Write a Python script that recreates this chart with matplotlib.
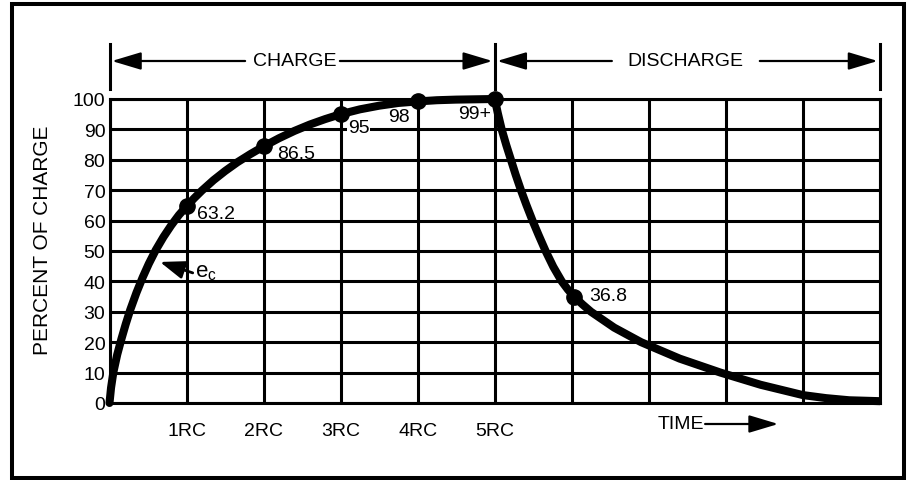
import matplotlib
matplotlib.use("Agg")
import matplotlib.pyplot as plt
import matplotlib.patches as mpatches
from matplotlib.transforms import blended_transform_factory

plt.rcParams["font.family"] = ["Liberation Sans", "DejaVu Sans"]

# curve (time in RC units, percent of charge)
CHARGE_T = [0, 0.02, 0.05, 0.1, 0.155, 0.21, 0.27, 0.35, 0.43, 0.51, 0.6, 0.7,
            0.8, 0.9, 1.0, 1.1, 1.2, 1.35, 1.5, 1.66, 1.83, 2.0, 2.2, 2.4,
            2.6, 2.8, 3.0, 3.25, 3.5, 3.75, 4.0, 4.25, 4.5, 4.75, 5.0]
CHARGE_V = [0, 5, 10.1, 15.9, 21.1, 25.9, 30.7, 36.3, 41.3, 45.8, 50.3, 54.6,
            58.4, 61.8, 64.7, 67.4, 69.9, 73.3, 76.3, 79.2, 81.9, 84.4, 87.1, 89.5,
            91.6, 93.4, 95.0, 96.6, 97.8, 98.7, 99.2, 99.6, 99.8, 99.9, 100]
DISCH_T = [5.0, 5.04, 5.09, 5.15, 5.21, 5.27, 5.34, 5.41, 5.49, 5.57, 5.66, 5.76,
           5.87, 5.95, 6.03, 6.14, 6.25, 6.55, 6.9, 7.4, 7.93, 8.45, 9.0, 9.3,
           9.6, 10.0]
DISCH_V = [100, 95.3, 90, 84.8, 80, 75.2, 70, 65.2, 60, 55.2, 50, 44.8,
           40, 37.3, 35, 32.4, 30, 24.8, 20, 14.6, 10, 6.0, 2.6, 1.6,
           0.9, 0.6]

DOT_T = [1, 2, 3, 4, 5, 6.03]
DOT_V = [64.7, 84.4, 95.0, 99.2, 100, 35]
DOT_LABELS = ["63.2", "86.5", "95", "98", "99+", "36.8"]

X_TICKS = list(range(11))
X_TICK_LABELS = ["", "1RC", "2RC", "3RC", "4RC", "5RC", "", "", "", "", ""]
Y_TICKS = list(range(0, 101, 10))

FS = 14

fig = plt.figure(figsize=(9.08, 4.81), dpi=100)
ax = fig.add_axes([109.5 / 908, 1 - 404 / 481, (880 - 109.5) / 908, (404 - 100) / 481])
ax.set_xlim(0, 10)
ax.set_ylim(0, 100)

ax.set_xticks(X_TICKS)
ax.set_xticklabels(X_TICK_LABELS, fontsize=FS)
ax.set_yticks(Y_TICKS)
ax.set_yticklabels([str(v) for v in Y_TICKS], fontsize=FS)
ax.tick_params(axis="x", length=0, pad=14)
ax.tick_params(axis="y", length=0, pad=3)
ax.grid(True, color="black", lw=2.2, zorder=1)
ax.set_axisbelow(True)
for sp in ax.spines.values():
    sp.set_linewidth(2.2)

# curve
ax.plot(CHARGE_T, CHARGE_V, color="black", lw=5.8, solid_joinstyle="round",
        solid_capstyle="round", zorder=4, clip_on=False)
ax.plot(DISCH_T, DISCH_V, color="black", lw=5.8, solid_joinstyle="round",
        solid_capstyle="butt", zorder=4, clip_on=False)
ax.plot(DOT_T, DOT_V, "o", color="black", ms=11, zorder=5, clip_on=False)

offsets = [(10, -7), (14, -7), (7, -13), (-8, -15), (-4, -15), (15, 1)]
aligns = ["left", "left", "left", "right", "right", "left"]
for t, v, lab, off, ha in zip(DOT_T, DOT_V, DOT_LABELS, offsets, aligns):
    box = dict(facecolor="white", edgecolor="none", pad=0.5) if lab == "95" else None
    ax.annotate(lab, xy=(t, v), xytext=off, textcoords="offset pixels",
                ha=ha, va="center", fontsize=FS, zorder=3, bbox=box)

# e_c pointer
ax.annotate("", xy=(0.655, 46.4), xytext=(1.08, 42.8),
            arrowprops=dict(arrowstyle="-|>,head_length=15,head_width=5.5",
                            mutation_scale=1, lw=2, color="black",
                            shrinkA=0, shrinkB=0), zorder=6)
ax.text(1.11, 43.4, r"$\mathregular{e_c}$", fontsize=16, ha="left", va="center")

fig.text(43 / 908, 1 - 240 / 481, "PERCENT OF CHARGE", rotation=90,
         ha="center", va="center", fontsize=15)

# charge / discharge span arrows above the grid
tr = blended_transform_factory(ax.transData, fig.transFigure)
y_row = 1 - 62 / 481
y_hi, y_lo = 1 - 45 / 481, 1 - 90 / 481
head = dict(arrowstyle="-|>,head_length=18,head_width=5.4", mutation_scale=1,
            lw=1.6, color="black", shrinkA=0, shrinkB=0)

for xb in (0, 5, 10):
    ax.plot([xb, xb], [y_lo, y_hi], color="black", lw=2.2, transform=tr, clip_on=False)

for tail, tip in [(1.76, 0.03), (2.99, 4.97), (6.52, 5.03), (8.44, 9.97)]:
    ax.annotate("", xy=(tip, y_row), xytext=(tail, y_row), xycoords=tr,
                textcoords=tr, arrowprops=head, annotation_clip=False)
ax.text(2.41, y_row, "CHARGE", transform=tr, ha="center", va="center", fontsize=FS)
ax.text(7.47, y_row, "DISCHARGE", transform=tr, ha="center", va="center", fontsize=FS)

# time arrow
y_time = 1 - 425 / 481
ax.text(7.12, y_time, "TIME", transform=tr, ha="left", va="center", fontsize=FS)
ax.annotate("", xy=(8.68, y_time), xytext=(7.73, y_time), xycoords=tr, textcoords=tr,
            arrowprops=head, annotation_clip=False)

# outer frame
fig.patches.append(mpatches.Rectangle(
    (11.5 / 908, 1 - 478.5 / 481), (904 - 11.5) / 908, (478.5 - 5) / 481,
    transform=fig.transFigure, fill=False, edgecolor="black", lw=2.9))

fig.savefig("out.png", dpi=100)
